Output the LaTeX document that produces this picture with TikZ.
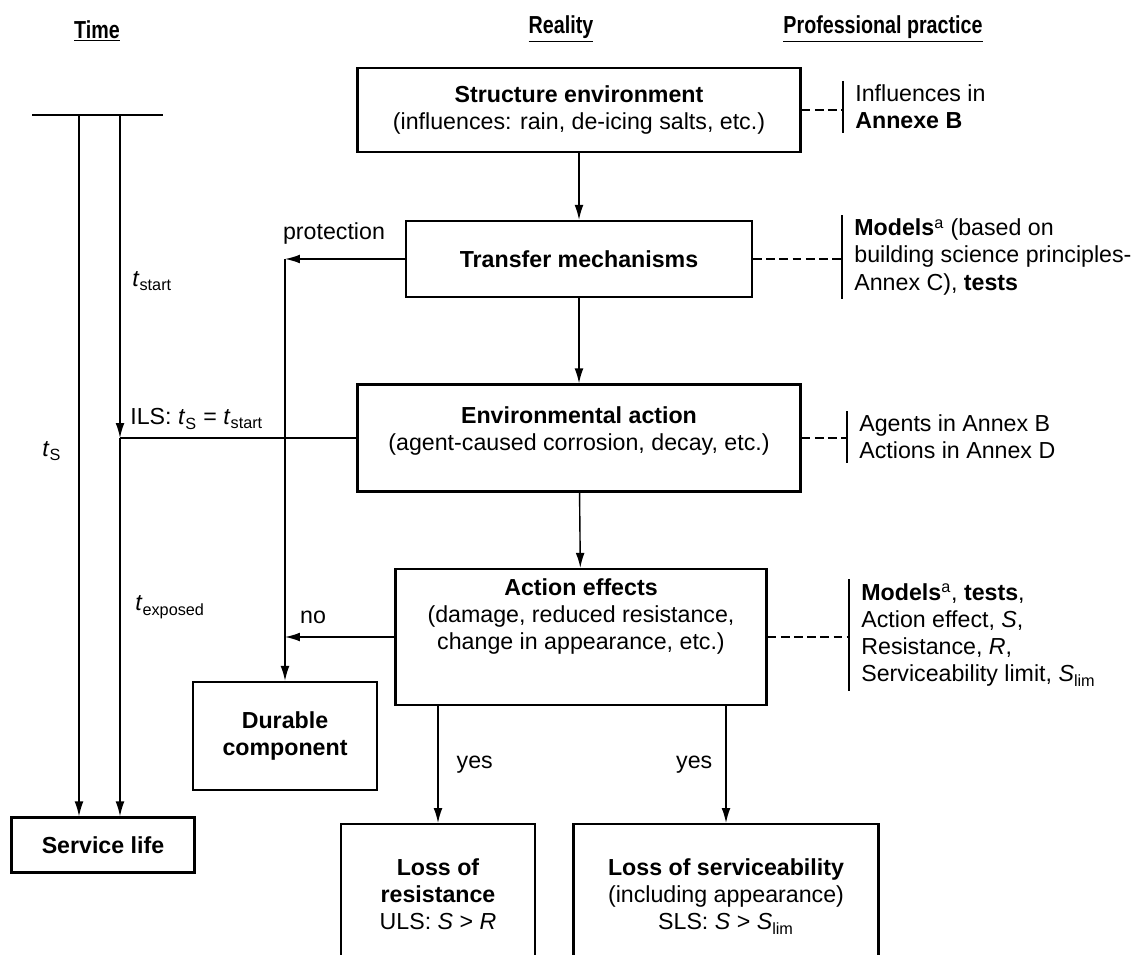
\documentclass[tikz,border=0pt]{standalone}
\usepackage{fontspec}
\setmainfont{Liberation Sans}
\usetikzlibrary{positioning, arrows.meta}
\tikzset{
  box/.style={draw, line width=1.3pt, align=center, inner sep=2pt},
  link/.style={draw, line width=0.8pt, -{Latex[length=8.5pt,width=5pt]}},
  plain/.style={draw, line width=0.8pt},
  tie/.style={draw, line width=0.8pt, dash pattern=on 5pt off 2.5pt},
  bar/.style={draw, line width=1.1pt},
  practice/.style={align=left, anchor=west, inner xsep=0.24cm, inner ysep=2pt},
  heading/.style={font=\fontsize{14}{16}\selectfont\bfseries},
  lbl/.style={inner sep=0pt},
}
\newcommand{\tvar}[1]{\textit{t}\textsubscript{#1}}
\newcommand{\lift}[1]{\rule[-#1]{0pt}{#1}}
\newcommand{\hd}[1]{\scalebox{0.8}[1]{\underline{#1}}}

\begin{document}
\begin{tikzpicture}[x=0.02cm, y=-0.02cm, font=\fontsize{13.2}{15.5}\selectfont]
\clip (0,0) rectangle (1141,955);

% column headings
\node[heading] (hTime) at (97,31) {\hd{Time}};
\node[heading] (hReal) at (561,29) {\hd{Reality}};
\node[heading] (hProf) at (883,29) {\hd{Professional practice}};

% reality
\node[box, minimum width=8.86cm, minimum height=1.68cm] (senv) at (579,110)
  {\textbf{Structure environment}\\(influences: rain, de-icing salts, etc.)};
\node[box, minimum width=6.92cm, minimum height=1.52cm] (trans) at (579,259)
  {\textbf{Transfer mechanisms}};
\node[box, minimum width=8.86cm, minimum height=2.14cm] (act) at (579,438)
  {\textbf{Environmental action}\\(agent-caused corrosion, decay, etc.)\lift{11pt}};
\node[box, minimum width=7.42cm, minimum height=2.72cm] (eff) at (581,637)
  {\textbf{Action effects}\\(damage, reduced resistance,\\change in appearance, etc.)\lift{26pt}};
\node[box, minimum width=3.68cm, minimum height=2.16cm] (dur) at (285,736)
  {\textbf{Durable}\\\textbf{component}};
\node[box, minimum width=3.66cm, minimum height=1.1cm] (life) at (103,845)
  {\textbf{Service life}};
\node[box, anchor=north, minimum width=3.88cm, minimum height=3.5cm] (lres) at (438,823)
  {\textbf{Loss of}\\\textbf{resistance}\\ULS: \textit{S} > \textit{R}\lift{20pt}};
\node[box, anchor=north, minimum width=6.1cm, minimum height=3.5cm] (lsrv) at (726,823)
  {\textbf{Loss of serviceability}\\(including appearance)\\SLS: \textit{S} > \textit{S}\textsubscript{lim}\lift{20pt}};

\draw[link] (senv) -- (trans);
\draw[link] (trans) -- (act);
\draw[link] (act) -- (eff);
\draw[link] (lres.north |- eff.south) -- (lres.north)
  node[lbl, midway, right=0.36cm] {yes};
\draw[link] (lsrv.north |- eff.south) -- (lsrv.north)
  node[lbl, midway, left=0.26cm] {yes};

% protection / no
\draw[link] (trans.west) -- (trans.west -| dur.north);
\draw[link] (trans.west -| dur.north) -- (dur.north);
\draw[link] (eff.west) -- (eff.west -| dur.north);
\node[lbl] (lProt) at (334,234) {protection};
\node[lbl] (lNo) at (313,617) {no};

% professional practice
\node[practice] (pInf) at (843,107) {Influences in\\\textbf{Annexe B}};
\node[practice] (pMod) at (842,257)
  {\textbf{Models}\textsuperscript{a} (based on\\building science principles-\\Annex C), \textbf{tests}};
\node[practice] (pAgt) at (847,437) {Agents in Annex B\\Actions in Annex D};
\node[practice] (pEff) at (849,635)
  {\textbf{Models}\textsuperscript{a}, \textbf{tests},\\Action effect, \textit{S},\\Resistance, \textit{R},\\Serviceability limit, \textit{S}\textsubscript{lim}};
\foreach \p in {pInf,pMod,pAgt,pEff}
  \draw[bar] (\p.north west) -- (\p.south west);
\draw[tie] (senv.east) -- (senv.east -| pInf.west);
\draw[tie] (trans.east) -- (trans.east -| pMod.west);
\draw[tie] (act.east) -- (act.east -| pAgt.west);
\draw[tie] (eff.east) -- (eff.east -| pEff.west);

% time
\coordinate (tL) at (32,115);
\coordinate (tR) at (163,115);
\coordinate (tA) at (79,115);
\coordinate (tB) at (120,115);
\draw[bar] (tL) -- (tR);
\draw[link] (tA) -- (tA |- life.north);
\draw[link] (tB) -- (tB |- act.west);
\draw[link] (tB |- act.west) -- (tB |- life.north);
\draw[plain] (tB |- act.west) -- (act.west);
\node[lbl, anchor=west] (lStart) at (132,281) {\tvar{start}};
\node[lbl, anchor=west] (lS) at (42,451) {\tvar{S}};
\node[lbl, anchor=west] (lIls) at (130,419) {ILS: \tvar{S} = \tvar{start}};
\node[lbl, anchor=west] (lExp) at (135,607) {\tvar{exposed}};
\end{tikzpicture}
\end{document}
